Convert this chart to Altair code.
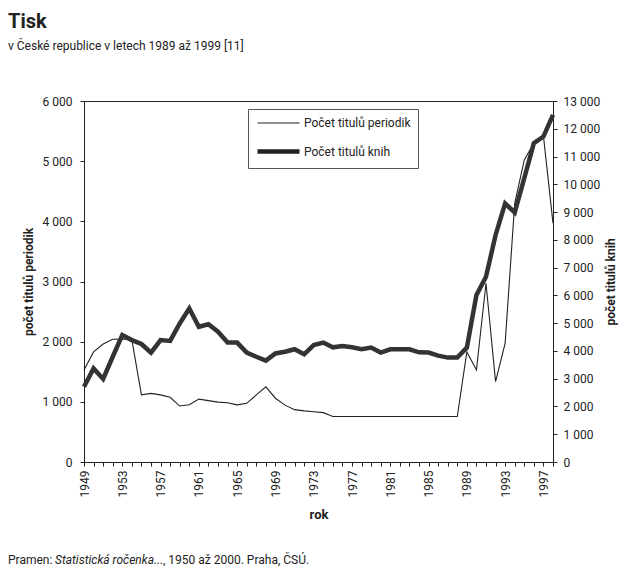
import altair as alt
import pandas as pd

# ---- data ----
years = list(range(1949, 1999))
periodika = [1530, 1830, 1960, 2040, 2045, 2030, 1115, 1140, 1115, 1075,
             930, 950, 1045, 1020, 995, 985, 950, 975, 1115, 1250,
             1060, 945, 870, 850, 835, 820, 755, 755, 755, 755,
             755, 755, 755, 755, 755, 755, 755, 755, 755, 755,
             1830, 1530, 2970, 1335, 1975, 4300, 5020, 5300, 5420, 3970]
knihy = [2710, 3370, 2990, 3790, 4570, 4390, 4250, 3940, 4390, 4360,
         4990, 5530, 4870, 4960, 4690, 4300, 4300, 3940, 3790, 3650,
         3910, 3970, 4060, 3880, 4210, 4300, 4130, 4180, 4130, 4060,
         4120, 3940, 4060, 4060, 4060, 3950, 3940, 3830, 3760, 3760,
         4120, 6010, 6670, 8170, 9310, 8980, 10220, 11480, 11720, 12500]
series_names = ["Počet titulů periodik", "Počet titulů knih"]
left_ticks = [0, 1000, 2000, 3000, 4000, 5000, 6000]
right_ticks = list(range(0, 14000, 1000))
title_text = ["Tisk"]
subtitle_text = ["v České republice v letech 1989 až 1999 [11]"]
footer_parts = ["Pramen:", "Statistická ročenka...", ", 1950 až 2000. Praha, ČSÚ."]

FONT = "Roboto"
INK = "#222222"

df_p = pd.DataFrame({"rok": years, "hodnota": periodika, "rada": series_names[0]})
df_k = pd.DataFrame({"rok": years, "hodnota": knihy, "rada": series_names[1]})

thousands = "replace(format(datum.value, ','), ',', ' ')"

x_enc = alt.X(
    "rok:Q",
    scale=alt.Scale(domain=[1949, 1998], nice=False, zero=False),
    axis=alt.Axis(
        values=years, format="d",
        labelExpr="(datum.value - 1949) % 4 == 0 ? datum.label : ''",
        labelAngle=-90, labelFontSize=12, labelFont=FONT, labelColor=INK,
        labelOverlap=False, labelPadding=4,
        tickSize=4, tickColor=INK, domainColor=INK,
        title="rok", titleFont=FONT, titleFontSize=13, titleFontWeight="bold",
        titleColor=INK, titlePadding=12, grid=False,
    ),
)

sw = alt.StrokeWidth(
    "rada:N",
    scale=alt.Scale(domain=series_names, range=[1.1, 4.5]),
    legend=alt.Legend(
        title=None, orient="none", legendX=164, legendY=8,
        symbolType="M-1,0H6", symbolSize=144, symbolStrokeColor=INK,
        labelFont=FONT, labelFontSize=12, labelColor=INK, labelLimit=300,
        labelOffset=32, rowPadding=13,
        strokeColor="#555555", fillColor="white", padding=7,
    ),
)

line_p = alt.Chart(df_p).mark_line(color=INK).encode(
    x=x_enc,
    y=alt.Y(
        "hodnota:Q",
        scale=alt.Scale(domain=[0, 6000], nice=False),
        axis=alt.Axis(
            orient="left", values=left_ticks, labelExpr=thousands,
            labelFont=FONT, labelFontSize=12, labelColor=INK,
            tickSize=4, tickColor=INK, domainColor=INK, grid=False,
            labelPadding=8,
            title="počet titulů periodik", titleFont=FONT, titleFontSize=12,
            titleFontWeight="bold", titleColor=INK, titlePadding=7,
        ),
    ),
    strokeWidth=sw,
)

line_k = alt.Chart(df_k).mark_line(color="#333333").encode(
    x=x_enc,
    y=alt.Y(
        "hodnota:Q",
        scale=alt.Scale(domain=[0, 13000], nice=False),
        axis=alt.Axis(
            orient="right", values=right_ticks, labelExpr=thousands,
            labelFont=FONT, labelFontSize=12, labelColor=INK,
            tickSize=4, tickColor=INK, domainColor=INK, grid=False,
            labelPadding=6,
            title="počet titulů knih", titleFont=FONT, titleFontSize=12,
            titleFontWeight="bold", titleColor=INK, titlePadding=18,
            titleAngle=-90,
        ),
    ),
    strokeWidth=sw,
)


def text_layer(texts, x, y, size, weight="normal", style="normal"):
    return alt.Chart(pd.DataFrame({"t": texts})).mark_text(
        align="left", baseline="middle", font=FONT, fontSize=size,
        fontWeight=weight, fontStyle=style, color=INK,
    ).encode(text="t:N", x=alt.value(x), y=alt.value(y))


t_title = text_layer(title_text, -76, -79, 20, weight="bold")
t_sub = text_layer(subtitle_text, -76, -55, 12)
f1 = text_layer([footer_parts[0]], -76, 459, 12)
f2 = text_layer([footer_parts[1]], -29, 459, 12, style="italic")
f3 = text_layer([footer_parts[2]], 79, 459, 12)

chart = alt.layer(line_p, line_k, t_title, t_sub, f1, f2, f3).resolve_scale(
    y="independent"
).properties(
    width=469, height=361,
    autosize=alt.AutoSizeParams(type="none"),
    padding={"left": 76, "top": 93, "right": 68, "bottom": 112},
    background="white",
).configure_view(stroke=INK, strokeWidth=1)

chart.save("out.html", embed_options={"renderer": "svg", "actions": False})
